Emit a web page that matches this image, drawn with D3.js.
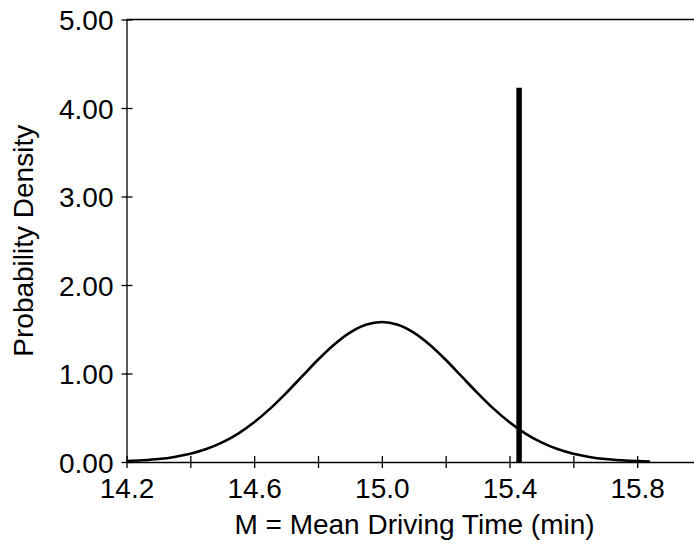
<!DOCTYPE html>
<html>
<head>
<meta charset="utf-8">
<script src="https://cdn.jsdelivr.net/npm/d3@7"></script>
<style>
  body { margin: 0; background: #fff; }
  text { font-family: "Liberation Sans", Arial, Helvetica, sans-serif; fill: #000; }
</style>
</head>
<body>
<div id="container"></div>
<script>
// values
const curveX = [14.20, 14.25, 14.30, 14.35, 14.40, 14.45, 14.50, 14.55, 14.60, 14.65, 14.70, 14.75, 14.80, 14.85, 14.90, 14.95, 15.00,
                15.05, 15.10, 15.15, 15.20, 15.25, 15.30, 15.35, 15.40, 15.45, 15.50, 15.55, 15.60, 15.65, 15.70, 15.75, 15.80, 15.84];
const curveY = [0.010, 0.019, 0.033, 0.057, 0.093, 0.146, 0.221, 0.321, 0.449, 0.603, 0.779, 0.967, 1.155, 1.325, 1.462, 1.551, 1.582,
                1.551, 1.462, 1.325, 1.155, 0.967, 0.779, 0.603, 0.449, 0.321, 0.221, 0.146, 0.093, 0.057, 0.033, 0.019, 0.010, 0.006];
const markX = [15.43];
const markY = [4.23];
const xTicks = [14.2, 14.4, 14.6, 14.8, 15.0, 15.2, 15.4, 15.6, 15.8];
const xLabels = [14.2, 14.6, 15.0, 15.4, 15.8];
const yTicks = [0, 1, 2, 3, 4, 5];

const width = 694;
const height = 544;
const fontSize = "28px";

const xScale = d3.scaleLinear()
  .domain([14.2, 15.978])
  .range([126.5, 694]);

const yScale = d3.scaleLinear()
  .domain([0, 5])
  .range([462, 19.5]);

const svg = d3.select("#container")
  .append("svg")
  .attr("width", width)
  .attr("height", height);

// top frame line
svg.append("line")
  .attr("x1", xScale(14.2)).attr("x2", xScale.range()[1])
  .attr("y1", yScale(5)).attr("y2", yScale(5))
  .attr("stroke", "#000").attr("stroke-width", 1.3);

const xAxis = d3.axisBottom(xScale)
  .tickValues(xTicks)
  .tickSizeInner(6)
  .tickSizeOuter(0)
  .tickPadding(10)
  .tickFormat(d => xLabels.some(v => Math.abs(v - d) < 1e-9) ? d3.format(".1f")(d) : "");

const yAxis = d3.axisLeft(yScale)
  .tickValues(yTicks)
  .tickSizeInner(5)
  .tickSizeOuter(0)
  .tickPadding(8)
  .tickFormat(d3.format(".2f"));

const gx = svg.append("g")
  .attr("transform", `translate(0,${yScale(0)})`)
  .call(xAxis);
gx.selectAll(".tick line").attr("y1", -6);

const gy = svg.append("g")
  .attr("transform", `translate(${xScale(14.2)},0)`)
  .call(yAxis);
gy.selectAll(".tick line").attr("x1", 6);

svg.selectAll(".domain, .tick line").attr("stroke", "#000").attr("stroke-width", 1.3);
svg.selectAll(".tick text").style("font-size", fontSize).attr("fill", "#000");
gy.selectAll(".tick text").attr("dy", "0.36em");

// density curve
const line = d3.line()
  .x((d, i) => xScale(curveX[i]))
  .y(d => yScale(d))
  .curve(d3.curveMonotoneX);

svg.append("path")
  .datum(curveY)
  .attr("d", line)
  .attr("fill", "none")
  .attr("stroke", "#000")
  .attr("stroke-width", 2.6);

// observed mean marker
svg.selectAll(".mark")
  .data(markX)
  .enter()
  .append("line")
  .attr("class", "mark")
  .attr("x1", d => xScale(d)).attr("x2", d => xScale(d))
  .attr("y1", yScale(0)).attr("y2", (d, i) => yScale(markY[i]))
  .attr("stroke", "#000")
  .attr("stroke-width", 5.5);

// axis titles
svg.append("text")
  .attr("x", 414.5)
  .attr("y", 534)
  .attr("text-anchor", "middle")
  .style("font-size", fontSize)
  .text("M = Mean Driving Time (min)");

svg.append("text")
  .attr("transform", `translate(33,${yScale(2.5)}) rotate(-90)`)
  .attr("text-anchor", "middle")
  .style("font-size", fontSize)
  .text("Probability Density");
</script>
</body>
</html>
